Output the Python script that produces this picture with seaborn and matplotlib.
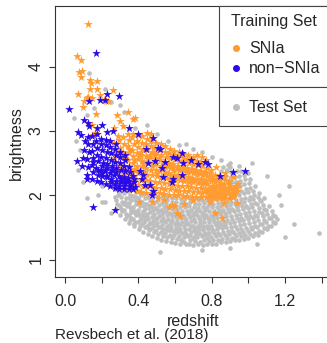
import matplotlib
matplotlib.use("Agg")
import matplotlib.pyplot as plt
from matplotlib.patches import Rectangle
import pandas as pd
import seaborn as sns

# colours of the three sets
SNIA_COLOR = "#FF9B30"
NON_SNIA_COLOR = "#2A0AE8"
TEST_COLOR = "#BEBEBE"

# (redshift, brightness)
test_set = [
    # sparse points around the training stars
    (0.05, 3.2), (0.08, 2.7), (0.12, 3.25), (0.2, 2.15), (0.1, 2.2), (0.06, 2.85),
    (0.25, 3.45), (0.3, 3.4), (0.32, 3.3), (0.38, 3.05), (0.45, 3.1), (0.5, 2.95),
    (0.12, 1.95), (0.18, 2.0), (0.22, 1.9), (0.07, 2.4), (0.16, 3.35), (0.22, 3.65),
    (0.13, 3.9), (0.25, 1.72), (0.2, 1.9), (0.56, 2.85), (0.62, 2.78), (0.7, 2.72),
    (0.75, 2.68), (0.8, 2.6), (0.85, 2.55), (0.9, 2.5), (0.95, 2.45), (1.0, 2.35),
    (1.02, 2.5), (1.1, 2.3), (0.66, 2.8),
    # main cloud
    (0.276, 1.78), (0.284, 1.86), (0.279, 1.93), (0.287, 2.01), (0.273, 2.09), (0.282, 2.17),
    (0.289, 2.26), (0.275, 1.97),
    (0.301, 1.69), (0.309, 1.75), (0.298, 1.83), (0.312, 1.9), (0.304, 1.98), (0.296, 2.04),
    (0.31, 2.12), (0.302, 2.2), (0.307, 1.79), (0.299, 2.27),
    (0.326, 1.63), (0.334, 1.71), (0.322, 1.77), (0.338, 1.84), (0.329, 1.9), (0.335, 1.96),
    (0.321, 2.03), (0.332, 2.09), (0.327, 2.16), (0.339, 1.67), (0.324, 1.87), (0.336, 2.22),
    (0.351, 1.57), (0.359, 1.64), (0.347, 1.7), (0.362, 1.74), (0.354, 1.81), (0.349, 1.88),
    (0.361, 1.93), (0.356, 2.0), (0.346, 2.07), (0.363, 2.12), (0.352, 1.61), (0.358, 1.77),
    (0.35, 1.95),
    (0.376, 1.52), (0.384, 1.58), (0.372, 1.63), (0.387, 1.69), (0.379, 1.76), (0.373, 1.82),
    (0.386, 1.86), (0.381, 1.93), (0.371, 1.99), (0.388, 2.05), (0.377, 2.12), (0.383, 1.72),
    (0.374, 1.55), (0.385, 1.97),
    (0.401, 1.47), (0.409, 1.53), (0.397, 1.59), (0.412, 1.64), (0.404, 1.7), (0.398, 1.77),
    (0.411, 1.83), (0.406, 1.88), (0.396, 1.95), (0.413, 2.0), (0.402, 2.07), (0.408, 1.61),
    (0.399, 1.73), (0.41, 1.91),
    (0.426, 1.43), (0.434, 1.5), (0.422, 1.55), (0.437, 1.61), (0.429, 1.66), (0.423, 1.72),
    (0.436, 1.79), (0.431, 1.84), (0.421, 1.9), (0.438, 1.96), (0.427, 2.03), (0.433, 1.58),
    (0.424, 1.69), (0.435, 1.87), (0.428, 1.76),
    (0.451, 1.4), (0.459, 1.46), (0.447, 1.52), (0.462, 1.57), (0.454, 1.63), (0.448, 1.68),
    (0.461, 1.74), (0.456, 1.8), (0.446, 1.86), (0.463, 1.92), (0.452, 1.98), (0.458, 1.55),
    (0.449, 1.71), (0.46, 1.83), (0.453, 1.49),
    (0.476, 1.37), (0.484, 1.43), (0.472, 1.49), (0.487, 1.54), (0.479, 1.6), (0.473, 1.66),
    (0.486, 1.71), (0.481, 1.77), (0.471, 1.83), (0.488, 1.88), (0.477, 1.94), (0.483, 2.0),
    (0.474, 1.57), (0.485, 1.8), (0.478, 1.68),
    (0.501, 1.34), (0.509, 1.4), (0.497, 1.46), (0.512, 1.51), (0.504, 1.57), (0.498, 1.63),
    (0.511, 1.68), (0.506, 1.74), (0.496, 1.8), (0.513, 1.85), (0.502, 1.91), (0.508, 1.97),
    (0.499, 1.54), (0.51, 1.77), (0.503, 1.65),
    (0.526, 1.31), (0.534, 1.37), (0.522, 1.43), (0.537, 1.48), (0.529, 1.54), (0.523, 1.6),
    (0.536, 1.65), (0.531, 1.71), (0.521, 1.77), (0.538, 1.82), (0.527, 1.88), (0.533, 1.94),
    (0.524, 1.5), (0.535, 1.74), (0.528, 1.62), (0.532, 1.99),
    (0.551, 1.29), (0.559, 1.35), (0.547, 1.41), (0.562, 1.46), (0.554, 1.52), (0.548, 1.58),
    (0.561, 1.63), (0.556, 1.69), (0.546, 1.75), (0.563, 1.8), (0.552, 1.86), (0.558, 1.92),
    (0.549, 1.48), (0.56, 1.72), (0.553, 1.6), (0.557, 1.97),
    (0.576, 1.27), (0.584, 1.33), (0.572, 1.39), (0.587, 1.44), (0.579, 1.5), (0.573, 1.56),
    (0.586, 1.61), (0.581, 1.67), (0.571, 1.73), (0.588, 1.78), (0.577, 1.84), (0.583, 1.9),
    (0.574, 1.46), (0.585, 1.7), (0.578, 1.58), (0.582, 1.96),
    (0.601, 1.26), (0.609, 1.32), (0.597, 1.38), (0.612, 1.43), (0.604, 1.49), (0.598, 1.55),
    (0.611, 1.6), (0.606, 1.66), (0.596, 1.72), (0.613, 1.77), (0.602, 1.83), (0.608, 1.89),
    (0.599, 1.45), (0.61, 1.69), (0.603, 1.57), (0.607, 1.95),
    (0.626, 1.25), (0.634, 1.31), (0.622, 1.37), (0.637, 1.42), (0.629, 1.48), (0.623, 1.54),
    (0.636, 1.59), (0.631, 1.65), (0.621, 1.71), (0.638, 1.76), (0.627, 1.82), (0.633, 1.88),
    (0.624, 1.44), (0.635, 1.68), (0.628, 1.56), (0.632, 1.94),
    (0.651, 1.27), (0.659, 1.24), (0.647, 1.35), (0.662, 1.4), (0.654, 1.47), (0.648, 1.52),
    (0.661, 1.57), (0.656, 1.64), (0.646, 1.69), (0.663, 1.75), (0.652, 1.81), (0.658, 1.86),
    (0.649, 1.92), (0.66, 1.62), (0.653, 1.43), (0.657, 1.97),
    (0.676, 1.25), (0.684, 1.3), (0.672, 1.36), (0.687, 1.43), (0.679, 1.48), (0.673, 1.55),
    (0.686, 1.6), (0.681, 1.66), (0.671, 1.71), (0.688, 1.77), (0.677, 1.84), (0.683, 1.89),
    (0.674, 1.95), (0.685, 1.52), (0.678, 1.73), (0.682, 1.39),
    (0.701, 1.23), (0.709, 1.29), (0.697, 1.34), (0.712, 1.41), (0.704, 1.46), (0.698, 1.53),
    (0.711, 1.58), (0.706, 1.63), (0.696, 1.69), (0.713, 1.76), (0.702, 1.81), (0.708, 1.87),
    (0.699, 1.93), (0.71, 1.49), (0.703, 1.72), (0.707, 1.37),
    (0.726, 1.24), (0.734, 1.28), (0.722, 1.35), (0.737, 1.4), (0.729, 1.47), (0.723, 1.52),
    (0.736, 1.57), (0.731, 1.64), (0.721, 1.7), (0.738, 1.75), (0.727, 1.8), (0.733, 1.86),
    (0.724, 1.92), (0.735, 1.61), (0.728, 1.43), (0.732, 1.96),
    (0.751, 1.23), (0.759, 1.3), (0.747, 1.36), (0.762, 1.41), (0.754, 1.46), (0.748, 1.53),
    (0.761, 1.59), (0.756, 1.64), (0.746, 1.7), (0.763, 1.77), (0.752, 1.82), (0.758, 1.88),
    (0.749, 1.93), (0.76, 1.5), (0.753, 1.73), (0.757, 1.38),
    (0.776, 1.24), (0.784, 1.29), (0.772, 1.34), (0.787, 1.42), (0.779, 1.47), (0.773, 1.52),
    (0.786, 1.58), (0.781, 1.65), (0.771, 1.7), (0.788, 1.75), (0.777, 1.81), (0.783, 1.87),
    (0.774, 1.93), (0.785, 1.62), (0.778, 1.4), (0.782, 1.96),
    (0.801, 1.24), (0.809, 1.3), (0.797, 1.35), (0.812, 1.41), (0.804, 1.48), (0.798, 1.53),
    (0.811, 1.58), (0.806, 1.63), (0.796, 1.7), (0.813, 1.76), (0.802, 1.81), (0.808, 1.86),
    (0.799, 1.92), (0.81, 1.45), (0.803, 1.67), (0.807, 1.97),
    (0.826, 1.25), (0.834, 1.31), (0.822, 1.37), (0.837, 1.42), (0.829, 1.47), (0.823, 1.54),
    (0.836, 1.59), (0.831, 1.64), (0.821, 1.7), (0.838, 1.77), (0.827, 1.82), (0.833, 1.88),
    (0.824, 1.94), (0.835, 1.5), (0.828, 1.73), (0.832, 1.99),
    (0.851, 1.27), (0.859, 1.32), (0.847, 1.38), (0.862, 1.43), (0.854, 1.49), (0.848, 1.55),
    (0.861, 1.6), (0.856, 1.66), (0.846, 1.71), (0.863, 1.77), (0.852, 1.83), (0.858, 1.88),
    (0.849, 1.94), (0.86, 1.52), (0.853, 1.74), (0.857, 2.02), (0.85, 2.38), (0.862, 2.44),
    (0.876, 1.28), (0.884, 1.33), (0.872, 1.39), (0.887, 1.44), (0.879, 1.5), (0.873, 1.56),
    (0.886, 1.62), (0.881, 1.67), (0.871, 1.72), (0.888, 1.78), (0.877, 1.84), (0.883, 1.89),
    (0.874, 1.95), (0.885, 2.05), (0.878, 2.3), (0.882, 2.4), (0.875, 1.59), (0.887, 2.47),
    (0.901, 1.29), (0.909, 1.34), (0.897, 1.4), (0.912, 1.45), (0.904, 1.51), (0.898, 1.57),
    (0.911, 1.63), (0.906, 1.68), (0.896, 1.74), (0.913, 1.79), (0.902, 1.85), (0.908, 1.9),
    (0.899, 1.96), (0.91, 2.05), (0.903, 2.28), (0.907, 2.36), (0.9, 2.44), (0.912, 2.2),
    (0.926, 1.3), (0.934, 1.36), (0.922, 1.41), (0.937, 1.47), (0.929, 1.52), (0.923, 1.58),
    (0.936, 1.64), (0.931, 1.69), (0.921, 1.75), (0.938, 1.81), (0.927, 1.86), (0.933, 1.92),
    (0.924, 1.98), (0.935, 2.04), (0.928, 2.12), (0.932, 2.2), (0.925, 2.29), (0.937, 2.37),
    (0.951, 1.31), (0.959, 1.37), (0.947, 1.42), (0.962, 1.48), (0.954, 1.54), (0.948, 1.6),
    (0.961, 1.65), (0.956, 1.71), (0.946, 1.77), (0.963, 1.83), (0.952, 1.88), (0.958, 1.94),
    (0.949, 2.0), (0.96, 2.07), (0.953, 2.14), (0.957, 2.22), (0.95, 2.3), (0.962, 2.37),
    (0.976, 1.32), (0.984, 1.38), (0.972, 1.43), (0.987, 1.49), (0.979, 1.55), (0.973, 1.61),
    (0.986, 1.67), (0.981, 1.72), (0.971, 1.78), (0.988, 1.84), (0.977, 1.9), (0.983, 1.96),
    (0.974, 2.03), (0.985, 2.1), (0.978, 2.18), (0.982, 2.26), (0.975, 2.32),
    (1.001, 1.34), (1.009, 1.4), (0.997, 1.45), (1.012, 1.51), (1.004, 1.57), (0.998, 1.63),
    (1.011, 1.68), (1.006, 1.74), (0.996, 1.8), (1.013, 1.86), (1.002, 1.92), (1.008, 1.98),
    (0.999, 2.05), (1.01, 2.12), (1.003, 2.19), (1.007, 2.25),
    (1.026, 1.36), (1.034, 1.42), (1.022, 1.47), (1.037, 1.53), (1.029, 1.59), (1.023, 1.65),
    (1.036, 1.7), (1.031, 1.76), (1.021, 1.82), (1.038, 1.88), (1.027, 1.94), (1.033, 2.0),
    (1.024, 2.07), (1.035, 2.14),
    (1.051, 1.39), (1.059, 1.45), (1.047, 1.5), (1.062, 1.56), (1.054, 1.62), (1.048, 1.68),
    (1.061, 1.74), (1.056, 1.8), (1.046, 1.86), (1.063, 1.92), (1.052, 1.98), (1.058, 2.04),
    (1.076, 1.43), (1.084, 1.49), (1.072, 1.55), (1.087, 1.61), (1.079, 1.67), (1.073, 1.73),
    (1.086, 1.79), (1.081, 1.85), (1.071, 1.91), (1.088, 1.95),
    (1.101, 1.47), (1.109, 1.53), (1.097, 1.59), (1.112, 1.65), (1.104, 1.71), (1.098, 1.77),
    (1.111, 1.84),
    (1.126, 1.52), (1.134, 1.58), (1.122, 1.64), (1.137, 1.7), (1.129, 1.75),
    (1.148, 1.57), (1.155, 1.63), (1.145, 1.68),
    # outliers
    (1.22, 2.15), (1.385, 1.42), (1.25, 1.55), (1.18, 1.85), (1.2, 1.35), (1.17, 2.0),
    (0.52, 1.12), (0.75, 1.15), (0.9, 1.18), (1.05, 1.25),
]

snia = [
    # bright, low-redshift tail
    (0.127, 4.66), (0.064, 4.16), (0.085, 4.10), (0.076, 3.92), (0.09, 3.93), (0.087, 3.84),
    (0.136, 3.79), (0.14, 3.74), (0.173, 3.78), (0.136, 3.66), (0.176, 3.65), (0.073, 3.57),
    (0.127, 3.53), (0.145, 3.52), (0.122, 3.52), (0.19, 3.56), (0.21, 3.48), (0.224, 3.46),
    (0.236, 3.47), (0.264, 3.64), (0.104, 3.47), (0.10, 3.37), (0.169, 3.27), (0.285, 3.25),
    (0.342, 3.30), (0.38, 3.20), (0.373, 3.19), (0.30, 3.16), (0.318, 3.08), (0.267, 3.04),
    (0.155, 2.94), (0.146, 3.09), (0.164, 2.97),
    # main band
    (0.268, 2.58), (0.275, 2.7), (0.265, 2.82), (0.278, 2.64),
    (0.292, 2.38), (0.298, 2.5), (0.29, 2.62), (0.3, 2.74), (0.294, 2.86), (0.297, 2.44), (0.291, 2.92),
    (0.317, 2.22), (0.323, 2.33), (0.315, 2.45), (0.325, 2.57), (0.319, 2.68), (0.322, 2.8),
    (0.316, 2.91), (0.324, 2.62),
    (0.342, 2.12), (0.348, 2.22), (0.34, 2.34), (0.35, 2.46), (0.344, 2.55), (0.347, 2.66),
    (0.341, 2.77), (0.349, 2.86), (0.343, 2.95), (0.346, 2.4), (0.351, 2.72),
    (0.367, 2.1), (0.373, 2.2), (0.365, 2.3), (0.375, 2.41), (0.369, 2.5), (0.372, 2.61),
    (0.366, 2.71), (0.374, 2.8), (0.368, 2.9), (0.371, 2.95), (0.376, 2.55), (0.364, 2.36),
    (0.392, 2.06), (0.398, 2.16), (0.39, 2.26), (0.4, 2.35), (0.394, 2.46), (0.397, 2.56),
    (0.391, 2.65), (0.399, 2.75), (0.393, 2.84), (0.396, 2.93), (0.401, 2.6), (0.389, 2.4),
    (0.417, 2.05), (0.423, 2.14), (0.415, 2.24), (0.425, 2.33), (0.419, 2.44), (0.422, 2.53),
    (0.416, 2.63), (0.424, 2.72), (0.418, 2.82), (0.421, 2.92), (0.426, 2.48), (0.414, 2.68),
    (0.442, 2.04), (0.448, 2.13), (0.44, 2.23), (0.45, 2.32), (0.444, 2.42), (0.447, 2.51),
    (0.441, 2.61), (0.449, 2.7), (0.443, 2.79), (0.446, 2.88), (0.451, 2.56), (0.439, 2.36),
    (0.445, 2.97),
    (0.467, 2.04), (0.473, 2.13), (0.465, 2.22), (0.475, 2.31), (0.469, 2.4), (0.472, 2.5),
    (0.466, 2.59), (0.474, 2.68), (0.468, 2.77), (0.471, 2.85), (0.476, 2.45), (0.464, 2.63),
    (0.47, 2.96),
    (0.492, 2.03), (0.498, 2.12), (0.49, 2.21), (0.5, 2.3), (0.494, 2.39), (0.497, 2.48),
    (0.491, 2.57), (0.499, 2.66), (0.493, 2.74), (0.496, 2.82), (0.501, 2.35), (0.489, 2.62),
    (0.517, 2.03), (0.523, 2.11), (0.515, 2.2), (0.525, 2.29), (0.519, 2.38), (0.522, 2.46),
    (0.516, 2.55), (0.524, 2.63), (0.518, 2.71), (0.521, 2.79), (0.526, 2.42), (0.514, 2.58),
    (0.542, 2.02), (0.548, 2.1), (0.54, 2.19), (0.55, 2.27), (0.544, 2.36), (0.547, 2.44),
    (0.541, 2.52), (0.549, 2.6), (0.543, 2.68), (0.546, 2.76), (0.551, 2.32), (0.539, 2.48),
    (0.567, 2.01), (0.573, 2.09), (0.565, 2.18), (0.575, 2.26), (0.569, 2.34), (0.572, 2.42),
    (0.566, 2.5), (0.574, 2.58), (0.568, 2.66), (0.571, 2.72), (0.576, 2.3), (0.564, 2.46),
    (0.592, 2.0), (0.598, 2.08), (0.59, 2.16), (0.6, 2.24), (0.594, 2.32), (0.597, 2.4),
    (0.591, 2.48), (0.599, 2.56), (0.593, 2.63), (0.596, 2.69), (0.601, 2.28), (0.589, 2.44),
    (0.617, 2.0), (0.623, 2.07), (0.615, 2.15), (0.625, 2.23), (0.619, 2.31), (0.622, 2.39),
    (0.616, 2.46), (0.624, 2.54), (0.618, 2.61), (0.621, 2.67), (0.626, 2.27), (0.614, 2.43),
    (0.642, 1.99), (0.648, 2.07), (0.64, 2.14), (0.65, 2.22), (0.644, 2.3), (0.647, 2.37),
    (0.641, 2.45), (0.649, 2.52), (0.643, 2.59), (0.646, 2.64), (0.651, 2.26), (0.639, 2.41),
    (0.667, 1.99), (0.673, 2.06), (0.665, 2.14), (0.675, 2.21), (0.669, 2.29), (0.672, 2.36),
    (0.666, 2.43), (0.674, 2.5), (0.668, 2.57), (0.671, 2.62), (0.676, 2.25), (0.664, 2.4),
    (0.692, 1.98), (0.698, 2.05), (0.69, 2.13), (0.7, 2.2), (0.694, 2.27), (0.697, 2.34),
    (0.691, 2.41), (0.699, 2.48), (0.693, 2.55), (0.696, 2.6), (0.701, 2.23), (0.689, 2.38),
    (0.717, 1.98), (0.723, 2.05), (0.715, 2.12), (0.725, 2.19), (0.719, 2.26), (0.722, 2.33),
    (0.716, 2.4), (0.724, 2.47), (0.718, 2.53), (0.721, 2.62), (0.726, 2.22), (0.714, 2.36),
    (0.742, 1.97), (0.748, 2.04), (0.74, 2.11), (0.75, 2.18), (0.744, 2.25), (0.747, 2.32),
    (0.741, 2.38), (0.749, 2.45), (0.743, 2.52), (0.746, 2.6), (0.751, 2.21), (0.739, 2.35),
    (0.767, 1.97), (0.773, 2.03), (0.765, 2.1), (0.775, 2.17), (0.769, 2.23), (0.772, 2.3),
    (0.766, 2.36), (0.774, 2.42), (0.768, 2.55), (0.771, 2.2), (0.776, 2.06), (0.764, 2.33),
    (0.792, 1.96), (0.798, 2.02), (0.79, 2.09), (0.8, 2.15), (0.794, 2.22), (0.797, 2.28),
    (0.791, 2.34), (0.799, 2.39), (0.793, 2.12), (0.796, 2.05), (0.801, 2.25), (0.789, 2.0),
    (0.817, 1.96), (0.823, 2.02), (0.815, 2.08), (0.825, 2.14), (0.819, 2.2), (0.822, 2.26),
    (0.816, 2.32), (0.824, 2.44), (0.818, 2.11), (0.821, 2.04), (0.826, 2.23), (0.814, 1.99),
    (0.842, 1.95), (0.848, 2.01), (0.84, 2.07), (0.85, 2.13), (0.844, 2.19), (0.847, 2.25),
    (0.841, 2.3), (0.849, 2.1), (0.843, 2.03), (0.846, 2.16),
    (0.867, 1.95), (0.873, 2.01), (0.865, 2.06), (0.875, 2.12), (0.869, 2.18), (0.872, 2.24),
    (0.866, 2.28), (0.874, 2.09), (0.868, 1.99), (0.871, 2.35),
    (0.892, 1.95), (0.898, 2.0), (0.89, 2.06), (0.9, 2.11), (0.894, 2.17), (0.897, 2.22),
    (0.891, 2.03), (0.899, 2.14),
    (0.917, 1.97), (0.923, 2.03), (0.915, 2.09), (0.925, 2.15), (0.919, 2.28), (0.922, 2.0),
    (0.938, 2.12), (0.944, 2.18), (0.937, 1.88), (0.94, 2.06),
    # faint side of the band
    (0.405, 1.89), (0.473, 1.89), (0.542, 1.92), (0.582, 1.85), (0.613, 1.72), (0.627, 1.68),
    (0.818, 1.72), (0.855, 1.64), (0.791, 1.9), (0.57, 1.82), (0.6, 1.83), (0.7, 1.93),
    (0.505, 1.95), (0.87, 1.88), (0.65, 1.87),
]

non_snia = [
    # sparse outliers
    (0.169, 4.21), (0.024, 3.34), (0.133, 3.46), (0.231, 3.58), (0.296, 3.55), (0.19, 3.48),
    (0.218, 3.48), (0.104, 3.17), (0.124, 3.13), (0.133, 3.07), (0.073, 2.99), (0.087, 2.94),
    (0.118, 2.26), (0.151, 1.81), (0.273, 1.77), (0.175, 3.05), (0.2, 3.1), (0.23, 2.98),
    (0.26, 3.0), (0.35, 3.05), (0.4, 2.95),
    # main cluster
    (0.064, 2.54), (0.1, 2.58), (0.091, 2.45), (0.105, 2.7), (0.11, 2.85),
    (0.122, 2.32), (0.128, 2.44), (0.12, 2.56), (0.13, 2.68), (0.124, 2.8), (0.127, 2.9),
    (0.147, 2.25), (0.153, 2.36), (0.145, 2.47), (0.155, 2.58), (0.149, 2.69), (0.152, 2.8),
    (0.146, 2.92), (0.154, 2.52),
    (0.172, 2.22), (0.178, 2.32), (0.17, 2.43), (0.18, 2.53), (0.174, 2.63), (0.177, 2.74),
    (0.171, 2.85), (0.179, 2.4), (0.176, 2.95),
    (0.197, 2.2), (0.203, 2.3), (0.195, 2.4), (0.205, 2.5), (0.199, 2.6), (0.202, 2.7),
    (0.196, 2.8), (0.204, 2.45), (0.198, 2.88), (0.201, 2.35),
    (0.222, 2.18), (0.228, 2.28), (0.22, 2.38), (0.23, 2.48), (0.224, 2.58), (0.227, 2.68),
    (0.221, 2.78), (0.229, 2.42), (0.223, 2.86), (0.226, 2.3),
    (0.247, 2.15), (0.253, 2.25), (0.245, 2.35), (0.255, 2.45), (0.249, 2.55), (0.252, 2.65),
    (0.246, 2.75), (0.254, 2.4), (0.248, 2.84), (0.251, 2.2),
    (0.272, 2.12), (0.278, 2.22), (0.27, 2.32), (0.28, 2.42), (0.274, 2.52), (0.277, 2.62),
    (0.271, 2.72), (0.279, 2.36), (0.273, 2.17), (0.276, 2.8),
    (0.297, 2.1), (0.303, 2.2), (0.295, 2.3), (0.305, 2.4), (0.299, 2.5), (0.302, 2.6),
    (0.296, 2.15), (0.304, 2.26), (0.298, 2.68),
    (0.322, 2.1), (0.328, 2.19), (0.32, 2.28), (0.33, 2.37), (0.324, 2.46), (0.327, 2.55),
    (0.321, 2.15), (0.329, 2.24), (0.326, 2.62),
    (0.347, 2.1), (0.353, 2.18), (0.345, 2.27), (0.355, 2.36), (0.349, 2.44), (0.352, 2.14),
    (0.346, 2.22),
    (0.372, 2.1), (0.378, 2.2), (0.37, 2.3), (0.38, 2.13), (0.374, 2.25),
    # inside the SNIa band
    (0.482, 2.89), (0.509, 2.74), (0.518, 2.72), (0.455, 2.5), (0.491, 2.53), (0.546, 2.52),
    (0.59, 2.6), (0.61, 2.58), (0.645, 2.5), (0.69, 2.55), (0.727, 2.48), (0.764, 2.52),
    (0.782, 2.48), (0.846, 2.3), (0.918, 2.36), (0.98, 2.38), (0.427, 2.32), (0.436, 2.16),
    (0.464, 2.16), (0.482, 2.06), (0.473, 2.0), (0.527, 2.42), (0.536, 2.29), (0.59, 2.26),
    (0.636, 2.32), (0.582, 2.21), (0.409, 2.37), (0.418, 2.26), (0.44, 2.72), (0.636, 2.65),
]

sns.set_style("white")
plt.rcParams["font.family"] = ["Liberation Sans", "DejaVu Sans"]
plt.rcParams["font.size"] = 11.5

cols = ["redshift", "brightness"]
test_df = pd.DataFrame(test_set, columns=cols)
snia_df = pd.DataFrame(snia, columns=cols)
non_df = pd.DataFrame(non_snia, columns=cols)

fig = plt.figure(figsize=(3.27, 3.43), dpi=100)
ax = fig.add_axes([55 / 327, 66 / 343, 275 / 327, 271 / 343])

sns.scatterplot(test_df, x="redshift", y="brightness", color=TEST_COLOR, s=11,
                linewidth=0, marker="o", legend=False, ax=ax)
sns.scatterplot(snia_df, x="redshift", y="brightness", color=SNIA_COLOR, s=42,
                linewidth=0, marker="*", legend=False, ax=ax)
sns.scatterplot(non_df, x="redshift", y="brightness", color=NON_SNIA_COLOR, s=42,
                linewidth=0, marker="*", legend=False, ax=ax)

ax.set_xlim(-0.0546, 1.4457)
ax.set_ylim(0.729, 4.944)
ax.set_xticks([0.0, 0.2, 0.4, 0.6, 0.8, 1.0, 1.2, 1.4])
ax.set_xticklabels(["0.0", "", "0.4", "", "0.8", "", "1.2", ""])
ax.set_yticks([1, 2, 3, 4])
ax.set_yticklabels(["1", "2", "3", "4"])
ax.tick_params(bottom=True, left=True, direction="out", length=4, width=0.8,
               color="#333333", labelsize=11.5)
ax.tick_params(axis="x", pad=8)
ax.tick_params(axis="y", pad=4)
for lab in ax.get_yticklabels():
    lab.set_rotation(90)
    lab.set_va("center")
for side in ["left", "bottom", "top", "right"]:
    ax.spines[side].set_color("#333333")
    ax.spines[side].set_linewidth(0.8)
ax.set_xlabel("")
ax.set_ylabel("")

fig.text(193 / 327, 1 - 326 / 343, "redshift", ha="center", va="baseline", fontsize=11.5)
fig.text(16 / 327, 1 - 143 / 343, "brightness", ha="center", va="center",
         rotation=90, fontsize=11.5)
fig.text(55 / 327, 1 - 339.5 / 343, "Revsbech et al. (2018)", ha="left",
         va="baseline", fontsize=11)

# legend boxes drawn in axes fraction
tr = ax.transAxes
box_x = 0.596
ax.add_patch(Rectangle((box_x, 0.701), 0.5, 0.299, transform=tr, facecolor="white",
                       edgecolor="#444444", linewidth=0.8, clip_on=False, zorder=5))
ax.add_patch(Rectangle((box_x, 0.557), 0.5, 0.144, transform=tr, facecolor="white",
                       edgecolor="#444444", linewidth=0.8, clip_on=False, zorder=5))
ax.text(0.64, 0.941, "Training Set", transform=tr, ha="left", va="center", zorder=6)
dot_x = 0.658
text_x = 0.706
for y, name, c in [(0.845, "SNIa", SNIA_COLOR), (0.771, "non\u2212SNIa", NON_SNIA_COLOR),
                   (0.627, "Test Set", TEST_COLOR)]:
    ax.plot([dot_x], [y], marker="o", markersize=4, color=c, transform=tr,
            clip_on=False, zorder=6)
    ax.text(text_x, y, name, transform=tr, ha="left", va="center", zorder=6)

fig.savefig("out.png", dpi=100)
